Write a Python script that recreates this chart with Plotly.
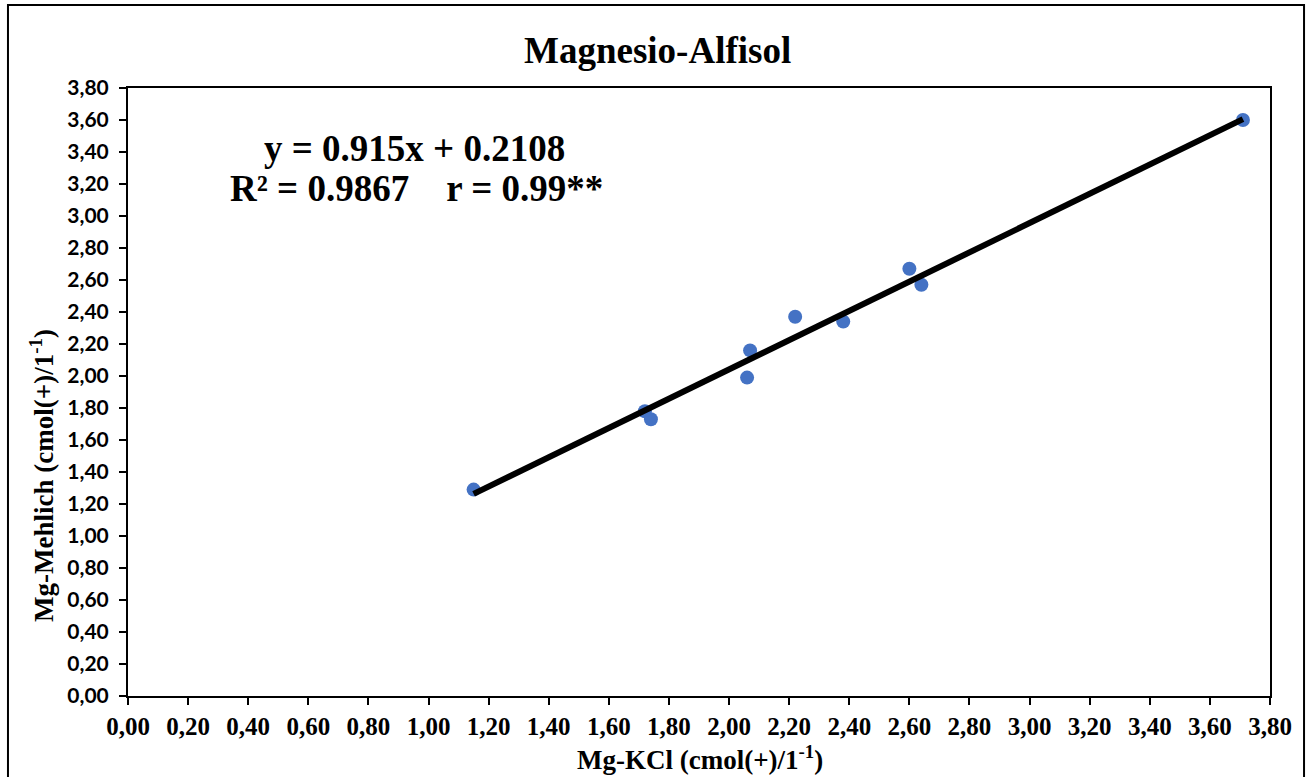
import plotly.graph_objects as go

# Data
mg_kcl = [1.15, 1.72, 1.74, 2.06, 2.07, 2.22, 2.38, 2.60, 2.64, 3.71]
mg_mehlich = [1.29, 1.78, 1.73, 1.99, 2.16, 2.37, 2.34, 2.67, 2.57, 3.60]
slope = 0.915
intercept = 0.2108
x_ticks = [round(i * 0.2, 2) for i in range(20)]
y_ticks = [round(i * 0.2, 2) for i in range(20)]

trend_x = [min(mg_kcl), max(mg_kcl)]
trend_y = [slope * v + intercept for v in trend_x]

serif = "Liberation Serif"

fig = go.Figure()
fig.add_trace(go.Scatter(
    x=mg_kcl, y=mg_mehlich, mode="markers",
    marker=dict(size=14, color="#4472C4", line=dict(width=0)),
    showlegend=False,
))
fig.add_trace(go.Scatter(
    x=trend_x, y=trend_y, mode="lines",
    line=dict(color="black", width=6),
    showlegend=False,
))

fig.update_layout(
    width=1307, height=777,
    margin=dict(l=128, r=37, t=88, b=81),
    paper_bgcolor="white", plot_bgcolor="white",
    separators=",.",
    showlegend=False,
)

fig.update_xaxes(
    range=[0, 3.8], tickvals=x_ticks, tickformat=".2f",
    showgrid=False, zeroline=False,
    showline=True, linecolor="black", linewidth=2, mirror=True,
    ticks="outside", ticklen=7, tickwidth=2, tickcolor="black",
    tickfont=dict(family=serif, size=25, color="black", weight="bold"),
)
fig.update_yaxes(
    range=[0, 3.8], tickvals=y_ticks, tickformat=".2f",
    showgrid=False, zeroline=False,
    showline=True, linecolor="black", linewidth=2, mirror=True,
    ticks="outside", ticklen=7, tickwidth=2, tickcolor="black",
    ticklabelstandoff=6,
    tickfont=dict(family="Lato", size=21, color="black", weight="bold"),
)

ann_font = dict(family=serif, color="black", weight="bold")
fig.add_annotation(text="Magnesio-Alfisol", xref="paper", yref="paper",
                   x=0.464, y=1.0625, xanchor="center", yanchor="middle",
                   showarrow=False, font=dict(size=37, **ann_font))
fig.add_annotation(text="y = 0.915x + 0.2108", xref="paper", yref="paper",
                   x=0.2513, y=0.901, xanchor="center", yanchor="middle",
                   showarrow=False, font=dict(size=37, **ann_font))
fig.add_annotation(text="R² = 0.9867\u00a0\u00a0\u00a0\u00a0r = 0.99**", xref="paper", yref="paper",
                   x=0.253, y=0.8355, xanchor="center", yanchor="middle",
                   showarrow=False, font=dict(size=37, **ann_font))
fig.add_annotation(text="Mg-KCl (cmol(+)/1<sup>-1</sup>)", xref="paper", yref="paper",
                   x=0.5009, y=-0.1020, xanchor="center", yanchor="middle",
                   showarrow=False, font=dict(size=27, **ann_font))
fig.add_annotation(text="Mg-Mehlich (cmol(+)/1<sup>-1</sup>)", xref="paper", yref="paper",
                   x=-0.0753, y=0.362, xanchor="center", yanchor="middle",
                   textangle=-90, showarrow=False, font=dict(size=27, **ann_font))

# outer chart border
fig.add_shape(type="rect", xref="paper", yref="paper",
              x0=-0.1051, x1=1.0298, y0=-0.16, y1=1.1365,
              line=dict(color="black", width=2), fillcolor="rgba(0,0,0,0)", layer="above")

fig.write_html("out.html")
